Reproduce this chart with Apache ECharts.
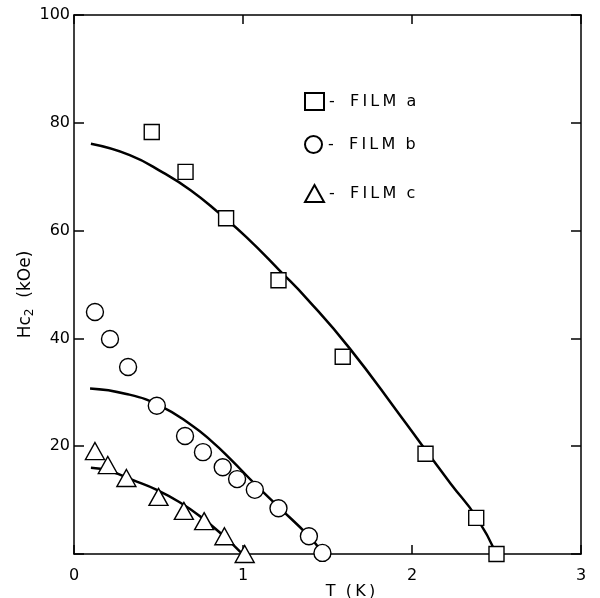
<!DOCTYPE html>
<html>
<head>
<meta charset="utf-8">
<script src="https://cdn.jsdelivr.net/npm/echarts@6/dist/echarts.min.js"></script>
<style>
html,body{margin:0;padding:0;background:#fff;}
#chart{width:600px;height:598px;}
</style>
</head>
<body>
<div id="chart"></div>
<script>
// Measured points
var filmA_T = [0.46, 0.66, 0.90, 1.21, 1.59, 2.08, 2.38, 2.50];
var filmA_H = [78.3, 70.9, 62.3, 50.8, 36.6, 18.6, 6.7, 0];
var filmB_T = [0.124, 0.213, 0.32, 0.49, 0.657, 0.763, 0.88, 0.965, 1.07, 1.21, 1.39, 1.47];
var filmB_H = [44.9, 39.9, 34.7, 27.5, 21.9, 18.9, 16.1, 13.9, 11.9, 8.5, 3.3, 0.2];
var filmC_T = [0.124, 0.20, 0.31, 0.50, 0.65, 0.77, 0.89, 1.01];
var filmC_H = [19.1, 16.5, 14.1, 10.6, 8.0, 6.1, 3.3, 0];
// Fitted curves
var curveA_T = [0.10, 0.33, 0.53, 0.69, 0.86, 1.02, 1.22, 1.38, 1.63, 1.93, 2.08, 2.23, 2.38, 2.50];
var curveA_H = [76.1, 74.0, 70.7, 67.5, 63.2, 58.8, 52.5, 47.3, 38.2, 25.7, 19.3, 13.0, 6.9, 0.0];
var curveB_T = [0.095, 0.31, 0.51, 0.70, 0.815, 0.92, 1.07, 1.215, 1.39, 1.47];
var curveB_H = [30.7, 29.7, 27.5, 23.8, 20.9, 17.8, 13.0, 8.6, 3.3, 0.2];
var curveC_T = [0.10, 0.21, 0.35, 0.49, 0.63, 0.75, 0.88, 0.99];
var curveC_H = [16.0, 15.4, 13.7, 11.9, 9.5, 6.9, 3.5, 0.2];
// Axis ticks
var xTicks = [0, 1, 2, 3];
var yTicks = [20, 40, 60, 80, 100];
var legendNames = ['- FILM a', '- FILM b', '- FILM c'];

function pairs(xs, ys){ return xs.map(function(x,i){ return [x, ys[i]]; }); }

var FONT = 'DejaVu Sans';
var chart = echarts.init(document.getElementById('chart'), null, {renderer:'canvas'});

var hollow = {color:'#fff', borderColor:'#000', borderWidth:1.4, opacity:1};

function legendAt(name, top){
  return {
    data:[name], left:304, top:top, orient:'vertical', padding:0,
    itemWidth:19, itemHeight:17, itemGap:0,
    textStyle:{fontFamily:FONT, fontSize:16, color:'#000'},
    formatter:function(n){
      var letter = n.charAt(n.length-1);
      return '-   F\u2009I\u2009L\u2009M  ' + letter;
    },
    selectedMode:false
  };
}

var option = {
  backgroundColor:'#fff',
  animation:false,
  grid:{left:74, right:19, top:15, bottom:44, containLabel:false, outerBoundsMode:'none'},
  legend:[legendAt(legendNames[0], 92), legendAt(legendNames[1], 135), legendAt(legendNames[2], 184)],
  xAxis:[{
    type:'value', min:0, max:3, interval:1, position:'bottom',
    name:'T  (\u2009K\u2009)', nameLocation:'middle', nameGap:30, nameMoveOverlap:false,
    nameTextStyle:{fontFamily:FONT, fontSize:16, color:'#000', padding:[0,0,0,46]},
    axisLine:{show:true, onZero:false, lineStyle:{color:'#000', width:1.5}},
    axisTick:{show:true, inside:true, length:9, lineStyle:{color:'#000', width:1.5}},
    axisLabel:{fontFamily:FONT, fontSize:16, color:'#000', margin:14,
      formatter:function(v){ return xTicks.indexOf(v) >= 0 ? String(v) : ''; }},
    splitLine:{show:false}
  },{
    type:'value', min:0, max:3, interval:1, position:'top',
    axisLine:{show:true, onZero:false, lineStyle:{color:'#000', width:1.5}},
    axisTick:{show:true, inside:true, length:9, lineStyle:{color:'#000', width:1.5}},
    axisLabel:{show:false}, splitLine:{show:false}
  }],
  yAxis:[{
    type:'value', min:0, max:100, interval:20, position:'left',
    name:'Hc{sub|2}  (kOe)', nameLocation:'middle', nameGap:38, nameRotate:90, nameMoveOverlap:false,
    nameTextStyle:{fontFamily:FONT, fontSize:17, color:'#000', padding:[0,20,0,0],
      rich:{sub:{fontFamily:FONT, fontSize:12, color:'#000', verticalAlign:'bottom', padding:[8,0,0,0]}}},
    axisLine:{show:true, onZero:false, lineStyle:{color:'#000', width:1.5}},
    axisTick:{show:true, inside:true, length:10, lineStyle:{color:'#000', width:1.5}},
    axisLabel:{fontFamily:FONT, fontSize:16, color:'#000', margin:4,
      formatter:function(v){ return yTicks.indexOf(v) >= 0 ? String(v) : ''; }},
    splitLine:{show:false}
  },{
    type:'value', min:0, max:100, interval:20, position:'right',
    axisLine:{show:true, onZero:false, lineStyle:{color:'#000', width:1.5}},
    axisTick:{show:true, inside:true, length:10, lineStyle:{color:'#000', width:1.5}},
    axisLabel:{show:false}, splitLine:{show:false}
  }],
  series:[
    {type:'line', data:pairs(curveA_T, curveA_H), smooth:0.5, showSymbol:false, silent:true,
      lineStyle:{color:'#000', width:2.5}, z:2},
    {type:'line', data:pairs(curveB_T, curveB_H), smooth:0.5, showSymbol:false, silent:true,
      lineStyle:{color:'#000', width:2.5}, z:2},
    {type:'line', data:pairs(curveC_T, curveC_H), smooth:0.5, showSymbol:false, silent:true,
      lineStyle:{color:'#000', width:2.5}, z:2},
    {name:legendNames[0], type:'scatter', data:pairs(filmA_T, filmA_H), symbol:'rect', symbolSize:15,
      itemStyle:hollow, z:5},
    {name:legendNames[1], type:'scatter', data:pairs(filmB_T, filmB_H), symbol:'circle', symbolSize:17,
      itemStyle:hollow, z:5},
    {name:legendNames[2], type:'scatter', data:pairs(filmC_T, filmC_H), symbol:'triangle', symbolSize:[19,17],
      itemStyle:hollow, z:5}
  ]
};
chart.setOption(option);
</script>
</body>
</html>
